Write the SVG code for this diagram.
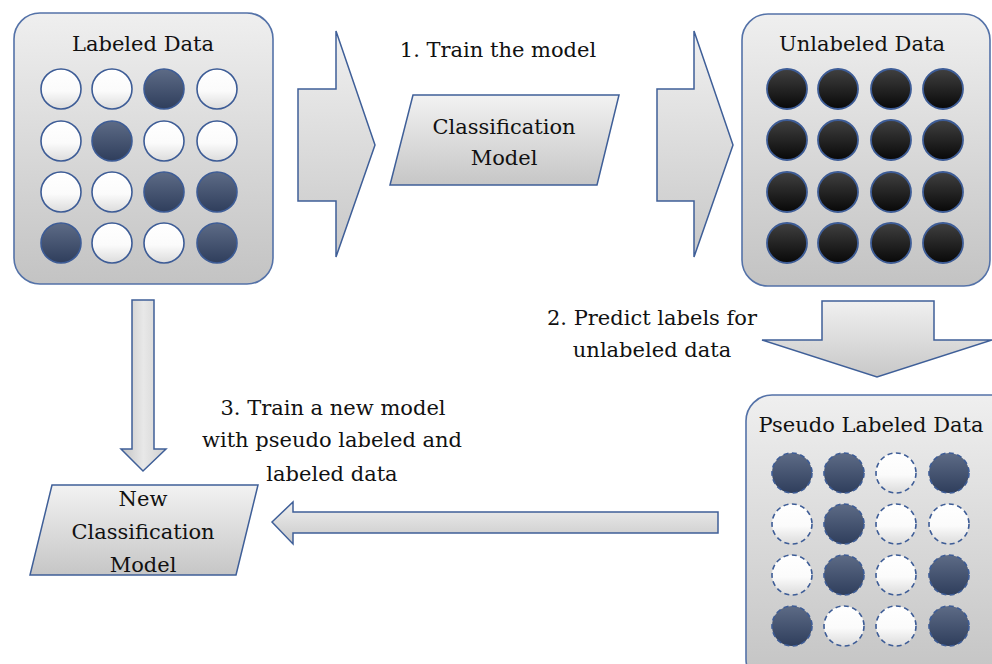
<svg xmlns="http://www.w3.org/2000/svg" width="992" height="664" viewBox="0 0 992 664">
  <defs>
    <linearGradient id="gBox" x1="0" y1="0" x2="0" y2="1">
      <stop offset="0" stop-color="#efefef"/>
      <stop offset="1" stop-color="#c3c3c3"/>
    </linearGradient>
    <linearGradient id="gShape" x1="0" y1="0" x2="0" y2="1">
      <stop offset="0" stop-color="#f2f2f2"/>
      <stop offset="1" stop-color="#c6c6c6"/>
    </linearGradient>
    <linearGradient id="gArrowH" x1="0" y1="0" x2="0" y2="1">
      <stop offset="0" stop-color="#f0f0f0"/>
      <stop offset="1" stop-color="#c8c8c8"/>
    </linearGradient>
    <linearGradient id="gArrowV" x1="0" y1="0" x2="1" y2="0">
      <stop offset="0" stop-color="#c4c4c4"/>
      <stop offset="0.5" stop-color="#e8e8e8"/>
      <stop offset="1" stop-color="#cfcfcf"/>
    </linearGradient>
    <linearGradient id="gWhite" x1="0" y1="0" x2="0" y2="1">
      <stop offset="0" stop-color="#ffffff"/>
      <stop offset="0.55" stop-color="#fbfbfb"/>
      <stop offset="1" stop-color="#dcdcdc"/>
    </linearGradient>
    <linearGradient id="gNavy" x1="0" y1="0" x2="0" y2="1">
      <stop offset="0" stop-color="#5d6b86"/>
      <stop offset="1" stop-color="#2f3e5c"/>
    </linearGradient>
    <linearGradient id="gBlack" x1="0" y1="0" x2="0" y2="1">
      <stop offset="0" stop-color="#404040"/>
      <stop offset="1" stop-color="#080808"/>
    </linearGradient>
    <style>
      .box { fill: url(#gBox); stroke: #5472a8; stroke-width: 1.6; }
      .shape { fill: url(#gShape); stroke: #3f5f98; stroke-width: 1.5; }
      .arrH { fill: url(#gArrowH); stroke: #3f5f98; stroke-width: 1.5; }
      .arrV { fill: url(#gArrowV); stroke: #3f5f98; stroke-width: 1.5; }
      .w { fill: url(#gWhite); stroke: #3d5c96; stroke-width: 1.6; }
      .n { fill: url(#gNavy); stroke: #3d5c96; stroke-width: 1.6; }
      .k { fill: url(#gBlack); stroke: #3d5c96; stroke-width: 1.8; }
      .dash { stroke-dasharray: 5 3.5; }
      .t { font-family: "DejaVu Serif", "Liberation Serif", serif; font-size: 21px; fill: #111; text-anchor: middle; }
    </style>
  </defs>

  <!-- connectors: block arrows between stages -->
  <g id="connectors">
    <path class="arrH" d="M298,89 H336 V31 L375,145 L336,257 V201 H298 Z"/>
    <path class="arrH" d="M657,89 H694 V31 L733,145 L694,257 V201 H657 Z"/>
    <path class="arrH" d="M822,301 H934 V340 H992 L877,377 L762,340 H822 Z"/>
    <path class="arrV" d="M132,300 H154 V449 H166 L143,471 L121,449 H132 Z"/>
    <path class="arrH" d="M718,512 H293 V502 L272,522 L293,544 V533 H718 Z"/>
  </g>

  <!-- step labels -->
  <g id="step-labels">
    <text class="t" x="498" y="57">1. Train the model</text>
    <text class="t" x="652" y="325">2. Predict labels for</text>
    <text class="t" x="652" y="357">unlabeled data</text>
    <text class="t" x="333" y="415">3. Train a new model</text>
    <text class="t" x="332" y="447">with pseudo labeled and</text>
    <text class="t" x="332" y="481">labeled data</text>
  </g>

  <!-- labeled data set -->
  <g id="labeled-data">
    <rect class="box" x="14" y="13" width="259" height="271" rx="26"/>
    <text class="t" x="143" y="51">Labeled Data</text>
    <circle class="w" cx="61" cy="89" r="20"/>
    <circle class="w" cx="112" cy="89" r="20"/>
    <circle class="n" cx="164" cy="89" r="20"/>
    <circle class="w" cx="217" cy="89" r="20"/>
    <circle class="w" cx="61" cy="141" r="20"/>
    <circle class="n" cx="112" cy="141" r="20"/>
    <circle class="w" cx="164" cy="141" r="20"/>
    <circle class="w" cx="217" cy="141" r="20"/>
    <circle class="w" cx="61" cy="192" r="20"/>
    <circle class="w" cx="112" cy="192" r="20"/>
    <circle class="n" cx="164" cy="192" r="20"/>
    <circle class="n" cx="217" cy="192" r="20"/>
    <circle class="n" cx="61" cy="243" r="20"/>
    <circle class="w" cx="112" cy="243" r="20"/>
    <circle class="w" cx="164" cy="243" r="20"/>
    <circle class="n" cx="217" cy="243" r="20"/>
  </g>

  <!-- first classifier -->
  <g id="classification-model">
    <path class="shape" d="M413,95 H619 L597,185 H390 Z"/>
    <text class="t" x="504" y="134">Classification</text>
    <text class="t" x="504" y="165">Model</text>
  </g>

  <!-- unlabeled data set -->
  <g id="unlabeled-data">
    <rect class="box" x="742" y="14" width="248" height="272" rx="26"/>
    <text class="t" x="862" y="51">Unlabeled Data</text>
    <circle class="k" cx="787" cy="89" r="20"/>
    <circle class="k" cx="838" cy="89" r="20"/>
    <circle class="k" cx="891" cy="89" r="20"/>
    <circle class="k" cx="943" cy="89" r="20"/>
    <circle class="k" cx="787" cy="140" r="20"/>
    <circle class="k" cx="838" cy="140" r="20"/>
    <circle class="k" cx="891" cy="140" r="20"/>
    <circle class="k" cx="943" cy="140" r="20"/>
    <circle class="k" cx="787" cy="192" r="20"/>
    <circle class="k" cx="838" cy="192" r="20"/>
    <circle class="k" cx="891" cy="192" r="20"/>
    <circle class="k" cx="943" cy="192" r="20"/>
    <circle class="k" cx="787" cy="243" r="20"/>
    <circle class="k" cx="838" cy="243" r="20"/>
    <circle class="k" cx="891" cy="243" r="20"/>
    <circle class="k" cx="943" cy="243" r="20"/>
  </g>

  <!-- pseudo labeled data set -->
  <g id="pseudo-labeled-data">
    <rect class="box" x="746" y="395" width="270" height="290" rx="26"/>
    <text class="t" x="871" y="432">Pseudo Labeled Data</text>
    <circle class="n dash" cx="792" cy="473" r="20"/>
    <circle class="n dash" cx="844" cy="473" r="20"/>
    <circle class="w dash" cx="896" cy="473" r="20"/>
    <circle class="n dash" cx="949" cy="473" r="20"/>
    <circle class="w dash" cx="792" cy="524" r="20"/>
    <circle class="n dash" cx="844" cy="524" r="20"/>
    <circle class="w dash" cx="896" cy="524" r="20"/>
    <circle class="w dash" cx="949" cy="524" r="20"/>
    <circle class="w dash" cx="792" cy="575" r="20"/>
    <circle class="n dash" cx="844" cy="575" r="20"/>
    <circle class="w dash" cx="896" cy="575" r="20"/>
    <circle class="n dash" cx="949" cy="575" r="20"/>
    <circle class="n dash" cx="792" cy="626" r="20"/>
    <circle class="w dash" cx="844" cy="626" r="20"/>
    <circle class="w dash" cx="896" cy="626" r="20"/>
    <circle class="n dash" cx="949" cy="626" r="20"/>
  </g>

  <!-- retrained classifier -->
  <g id="new-classification-model">
    <path class="shape" d="M52,485 H258 L236,575 H30 Z"/>
    <text class="t" x="143" y="506">New</text>
    <text class="t" x="143" y="539">Classification</text>
    <text class="t" x="143" y="572">Model</text>
  </g>
</svg>
